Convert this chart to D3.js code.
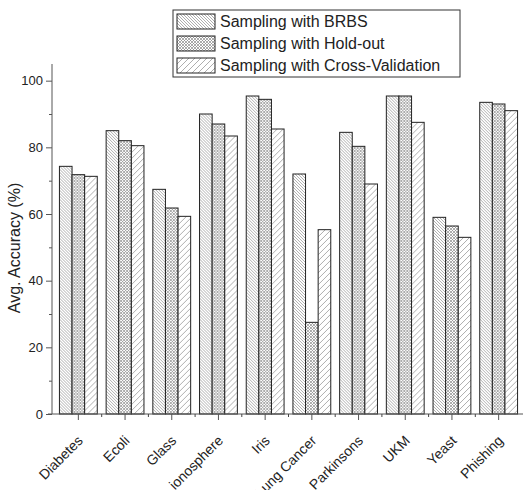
<!DOCTYPE html>
<html>
<head>
<meta charset="utf-8">
<script src="https://cdn.jsdelivr.net/npm/d3@7"></script>
<style>
  body { margin: 0; background: #fff; }
  text { font-family: "Liberation Sans", Arial, sans-serif; fill: #222; }
</style>
</head>
<body>
<div id="chart"></div>
<script>
// data
const datasets = ["Diabetes","Ecoli","Glass","ionosphere","Iris","Lung Cancer","Parkinsons","UKM","Yeast","Phishing"];
const series = ["Sampling with BRBS","Sampling with Hold-out","Sampling with Cross-Validation"];
const brbs    = [74.3, 85, 67.4, 90, 95.4, 72, 84.5, 95.4, 59, 93.5];
const holdout = [71.8, 82, 61.8, 87, 94.4, 27.5, 80.3, 95.4, 56.4, 93];
const crossVal = [71.3, 80.5, 59.3, 83.4, 85.5, 55.3, 69, 87.5, 53, 91];
const yTicks = [0, 20, 40, 60, 80, 100];
const yMinor = [10, 30, 50, 70, 90];

const values = [brbs, holdout, crossVal];
const patternIds = ["pBrbs", "pHold", "pCv"];

const W = 525, H = 490;
const margin = {top: 64, right: 3, bottom: 76, left: 52};
const width = W - margin.left - margin.right;
const height = H - margin.top - margin.bottom;

const svg = d3.select("#chart").append("svg")
    .attr("width", W).attr("height", H);

// fill patterns
const defs = svg.append("defs");
let p1 = defs.append("pattern").attr("id", "pBrbs")
    .attr("patternUnits", "userSpaceOnUse").attr("width", 3).attr("height", 3);
p1.append("rect").attr("width", 3).attr("height", 3).attr("fill", "#fff");
p1.append("path").attr("d", "M-1,-1 L4,4 M-1,2 L1,4 M2,-1 L4,1")
    .attr("stroke", "#999").attr("stroke-width", 0.8);

let p2 = defs.append("pattern").attr("id", "pHold")
    .attr("patternUnits", "userSpaceOnUse").attr("width", 3).attr("height", 3);
p2.append("rect").attr("width", 3).attr("height", 3).attr("fill", "#fff");
p2.append("path").attr("d", "M-1,-1 L4,4 M-1,2 L1,4 M2,-1 L4,1 M-1,4 L4,-1 M-1,1 L1,-1 M2,4 L4,2")
    .attr("stroke", "#888").attr("stroke-width", 0.7);

let p3 = defs.append("pattern").attr("id", "pCv")
    .attr("patternUnits", "userSpaceOnUse").attr("width", 6).attr("height", 6);
p3.append("rect").attr("width", 6).attr("height", 6).attr("fill", "#fff");
p3.append("path").attr("d", "M-1,7 L7,-1 M-1,1 L1,-1 M5,7 L7,5")
    .attr("stroke", "#999").attr("stroke-width", 0.8);

const g = svg.append("g")
    .attr("transform", "translate(" + margin.left + "," + margin.top + ")");

// scales
const x0 = d3.scaleBand().domain(datasets).range([3, width]).paddingInner(0.19).paddingOuter(0.095);
const x1 = d3.scaleBand().domain(d3.range(3)).range([0, x0.bandwidth()]);
const y = d3.scaleLinear().domain([0, 105]).range([height, 0]);

// bars
const groups = g.selectAll(".grp").data(datasets).enter().append("g")
    .attr("class", "grp")
    .attr("transform", d => "translate(" + x0(d) + ",0)");

groups.selectAll("rect")
    .data((d, i) => values.map((v, k) => ({k: k, value: v[i]})))
    .enter().append("rect")
    .attr("x", d => x1(d.k))
    .attr("y", d => y(d.value))
    .attr("width", x1.bandwidth())
    .attr("height", d => height - y(d.value))
    .attr("fill", d => "url(#" + patternIds[d.k] + ")")
    .attr("stroke", "#222")
    .attr("stroke-width", 1);

// y axis
const yAxis = g.append("g")
    .call(d3.axisLeft(y).tickValues(yTicks).tickSize(6).tickPadding(3).tickFormat(d3.format("d")));
g.append("g")
    .call(d3.axisLeft(y).tickValues(yMinor).tickSize(3).tickFormat(""))
    .select(".domain").remove();
yAxis.select(".domain").attr("d", "M0," + height + "V0");

// x axis
const xAxis = g.append("g")
    .attr("transform", "translate(0," + height + ")")
    .call(d3.axisBottom(x0).tickSize(6).tickSizeOuter(0));
xAxis.select(".domain").attr("d", "M-4,0H" + (width + 1));
xAxis.selectAll("text")
    .attr("x", 0).attr("y", 0)
    .attr("text-anchor", "end")
    .attr("dy", "0.35em")
    .attr("transform", "translate(2,24) rotate(-45)");

// minor ticks between datasets
const step = x0.step();
g.append("g")
    .attr("transform", "translate(0," + height + ")")
    .selectAll("line").data(datasets.slice(1)).enter().append("line")
    .attr("x1", d => x0(d) - x0.paddingInner() * step / 2)
    .attr("x2", d => x0(d) - x0.paddingInner() * step / 2)
    .attr("y1", 0).attr("y2", 3)
    .attr("stroke", "#444");

svg.selectAll(".tick text").attr("font-size", 13).attr("fill", "#222")
    .style("font-family", "'Liberation Sans', Arial, sans-serif");
xAxis.selectAll("text").attr("font-size", 14);
svg.selectAll(".domain, .tick line").attr("stroke", "#555");

// axis title
svg.append("text")
    .attr("transform", "translate(20," + 248 + ") rotate(-90)")
    .attr("text-anchor", "middle")
    .attr("font-size", 16)
    .text("Avg. Accuracy (%)");

// legend
const legend = svg.append("g").attr("transform", "translate(173,10)");
legend.append("rect").attr("width", 287).attr("height", 67)
    .attr("fill", "#fff").attr("stroke", "#333");
const items = legend.selectAll(".li").data(series).enter().append("g")
    .attr("class", "li")
    .attr("transform", (d, i) => "translate(4," + (4 + i * 22) + ")");
items.append("rect").attr("width", 38).attr("height", 15)
    .attr("fill", (d, i) => "url(#" + patternIds[i] + ")")
    .attr("stroke", "#222");
items.append("text").attr("x", 43).attr("y", 13)
    .attr("font-size", 16)
    .text(d => d);
</script>
</body>
</html>
